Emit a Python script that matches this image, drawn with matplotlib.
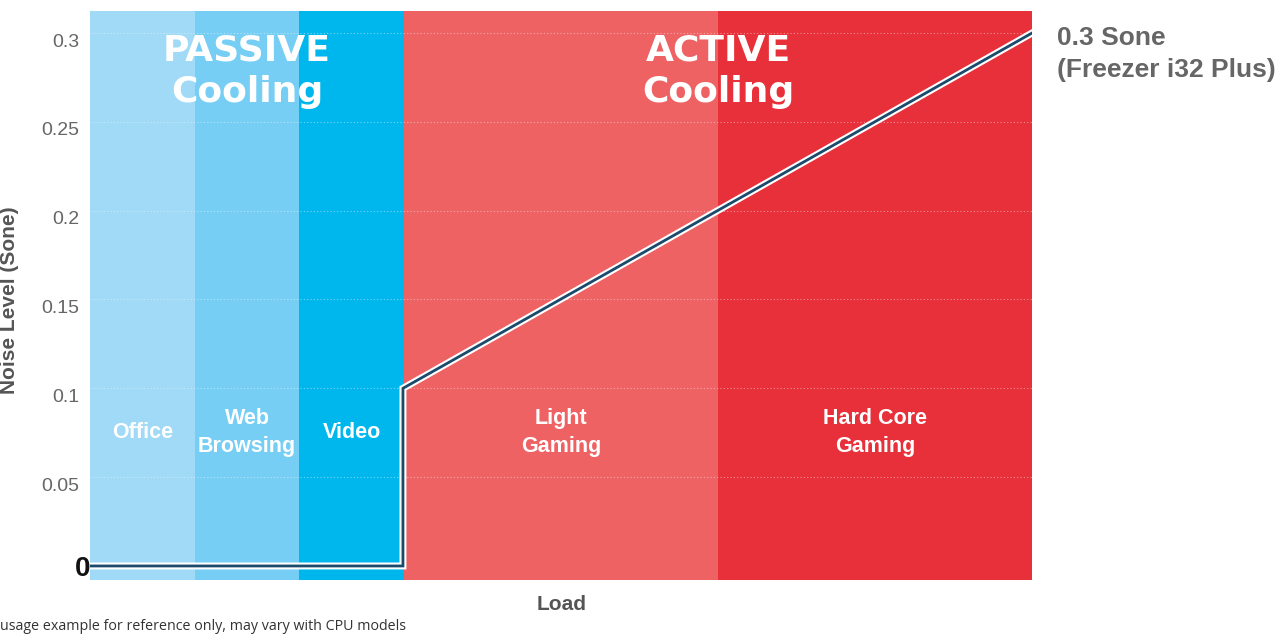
import matplotlib.pyplot as plt
import matplotlib.patheffects as pe
import matplotlib.transforms as mtransforms

# usage bands (x in load units)
band_names = ['Office', 'Web\nBrowsing', 'Video', 'Light\nGaming', 'Hard Core\nGaming']
band_start = [0, 1, 2, 3, 6]
band_end = [1, 2, 3, 6, 9]
band_colors = ['#a0daf6', '#76cef4', '#00b7ed', '#ee6264', '#e8303a']

# noise curve
load = [0, 2.99, 2.99, 9]
noise = [0, 0, 0.1, 0.3]

yticks = [0, 0.05, 0.1, 0.15, 0.2, 0.25, 0.3]
ytick_labels = ['0', '0.05', '0.1', '0.15', '0.2', '0.25', '0.3']

plt.rcParams['font.family'] = ['Liberation Sans', 'DejaVu Sans']

fig = plt.figure(figsize=(12.8, 6.34), dpi=100)
ax = fig.add_axes([90/1280, 54/634, 942/1280, 569/634])

for name, s, e, c in zip(band_names, band_start, band_end, band_colors):
    ax.axvspan(s, e, color=c, lw=0, zorder=0)
    ax.text((s + e) / 2, 0.075, name, color='white', fontsize=15.5, fontweight='bold',
            ha='center', va='center', linespacing=1.45, zorder=3)

for y in yticks[1:]:
    ax.axhline(y, color='white', lw=0.8, ls=(0, (1, 2)), alpha=0.45, zorder=1)

ax.plot(load, noise, color='#1a4a6c', lw=2, zorder=4, solid_joinstyle='miter',
        path_effects=[pe.Stroke(linewidth=5, foreground='white'), pe.Normal()])

ax.text(1.5, 0.2785, 'PASSIVE\nCooling', color='white', fontsize=26, fontweight='heavy',
        ha='center', va='center', linespacing=1.3, zorder=3, family='DejaVu Sans')
ax.text(6.0, 0.2785, 'ACTIVE\nCooling', color='white', fontsize=26, fontweight='heavy',
        ha='center', va='center', linespacing=1.3, zorder=3, family='DejaVu Sans')

ax.set_xlim(0, 9)
ax.set_ylim(-0.0079, 0.3124)
ax.set_xticks([])
ax.set_yticks(yticks)
ax.set_yticklabels(ytick_labels)
ax.tick_params(axis='y', length=0, pad=8, labelsize=14, labelcolor='#666666')
offset = mtransforms.ScaledTranslation(0, -7/100, fig.dpi_scale_trans)
for lab in ax.get_yticklabels():
    lab.set_transform(lab.get_transform() + offset)
zero_lab = ax.get_yticklabels()[0]
zero_lab.set_fontsize(20)
zero_lab.set_fontweight('bold')
zero_lab.set_color('#111111')
zero_lab.set_transform(ax.get_yaxis_transform(which='tick1'))
for sp in ax.spines.values():
    sp.set_visible(False)

fig.text(10/1280, 1 - 300/634, 'Noise Level (Sone)', rotation=90, fontsize=15,
         fontweight='bold', color='#555555', ha='center', va='center')
fig.text(562/1280, 1 - 604/634, 'Load', fontsize=15, fontweight='bold',
         color='#555555', ha='center', va='center')
fig.text(0, 1 - 626/634, 'usage example for reference only, may vary with CPU models',
         fontsize=10.3, color='#333333', ha='left', va='center', family='Open Sans')
fig.text(1057/1280, 1 - 54/634, '0.3 Sone\n(Freezer i32 Plus)', fontsize=19,
         fontweight='bold', color='#666666', ha='left', va='center', linespacing=1.45)

fig.savefig('out.png', dpi=100)
